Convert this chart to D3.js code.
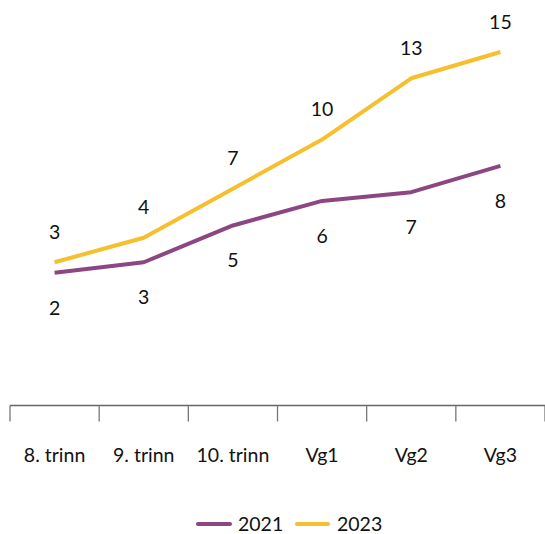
<!DOCTYPE html>
<html><head><meta charset="utf-8">
<script src="https://cdn.jsdelivr.net/npm/d3@7"></script>
<style>body{margin:0;background:#fff;} text{font-family:Lato,"Open Sans",sans-serif;fill:#111;}</style>
</head><body><svg id="c" width="545" height="534"></svg>
<script>
const categories = ["8. trinn","9. trinn","10. trinn","Vg1","Vg2","Vg3"];
const values2021 = [2.2, 2.8, 4.9, 6.3, 6.8, 8.3];
const values2023 = [2.8, 4.2, 7.0, 9.8, 13.3, 14.8];
const seriesNames = ["2021","2023"];
const colors = ["#8c4682","#f6bf2d"];

const svg = d3.select("#c");
const x = d3.scaleBand().domain(categories).range([10,545]);
const y = d3.scaleLinear().domain([0,15]).range([311.3, 311.3-15*17.52]);
const axisY = 405.5;

// axis
const g = svg.append("g").attr("transform",`translate(0,${axisY})`);
g.append("line").attr("x1",10).attr("x2",545).attr("y1",0).attr("y2",0).attr("stroke","#666").attr("stroke-width",1.3);
const tickPos = categories.map(c=>x(c)).concat([x.range()[1]]);
g.selectAll("line.tick").data(tickPos).join("line").attr("class","tick")
 .attr("x1",d=>d).attr("x2",d=>d).attr("y1",0).attr("y2",16).attr("stroke","#777").attr("stroke-width",1.3);
g.selectAll("text.cat").data(categories).join("text").attr("class","cat")
 .attr("x",d=>x(d)+x.bandwidth()/2).attr("y",56).attr("text-anchor","middle").attr("font-size",19.5).text(d=>d);

const cx = d=>x(d)+x.bandwidth()/2;
const line = d3.line().x(d=>cx(d.c)).y(d=>y(d.v));
const data = [values2021, values2023].map(arr=>arr.map((v,i)=>({c:categories[i],v})));

data.forEach((s,k)=>{
  svg.append("path").datum(s).attr("d",line).attr("fill","none").attr("stroke",colors[k]).attr("stroke-width",4).attr("stroke-linejoin","round");
});
// labels
svg.selectAll("text.l21").data(data[0]).join("text").attr("class","l21")
 .attr("x",d=>cx(d.c)).attr("y",d=>y(d.v)+42).attr("text-anchor","middle").attr("font-size",19.5).text(d=>Math.round(d.v));
svg.selectAll("text.l23").data(data[1]).join("text").attr("class","l23")
 .attr("x",d=>cx(d.c)).attr("y",d=>y(d.v)-23.5).attr("text-anchor","middle").attr("font-size",19.5).text(d=>Math.round(d.v));

// legend
const leg = [{x1:198,x2:230,tx:238},{x1:297,x2:328,tx:337}];
leg.forEach((l,k)=>{
  svg.append("line").attr("x1",l.x1).attr("x2",l.x2).attr("y1",524).attr("y2",524).attr("stroke",colors[k]).attr("stroke-width",4).attr("stroke-linecap","round");
  svg.append("text").attr("x",l.tx).attr("y",531).attr("font-size",19.5).text(seriesNames[k]);
});
</script></body></html>
